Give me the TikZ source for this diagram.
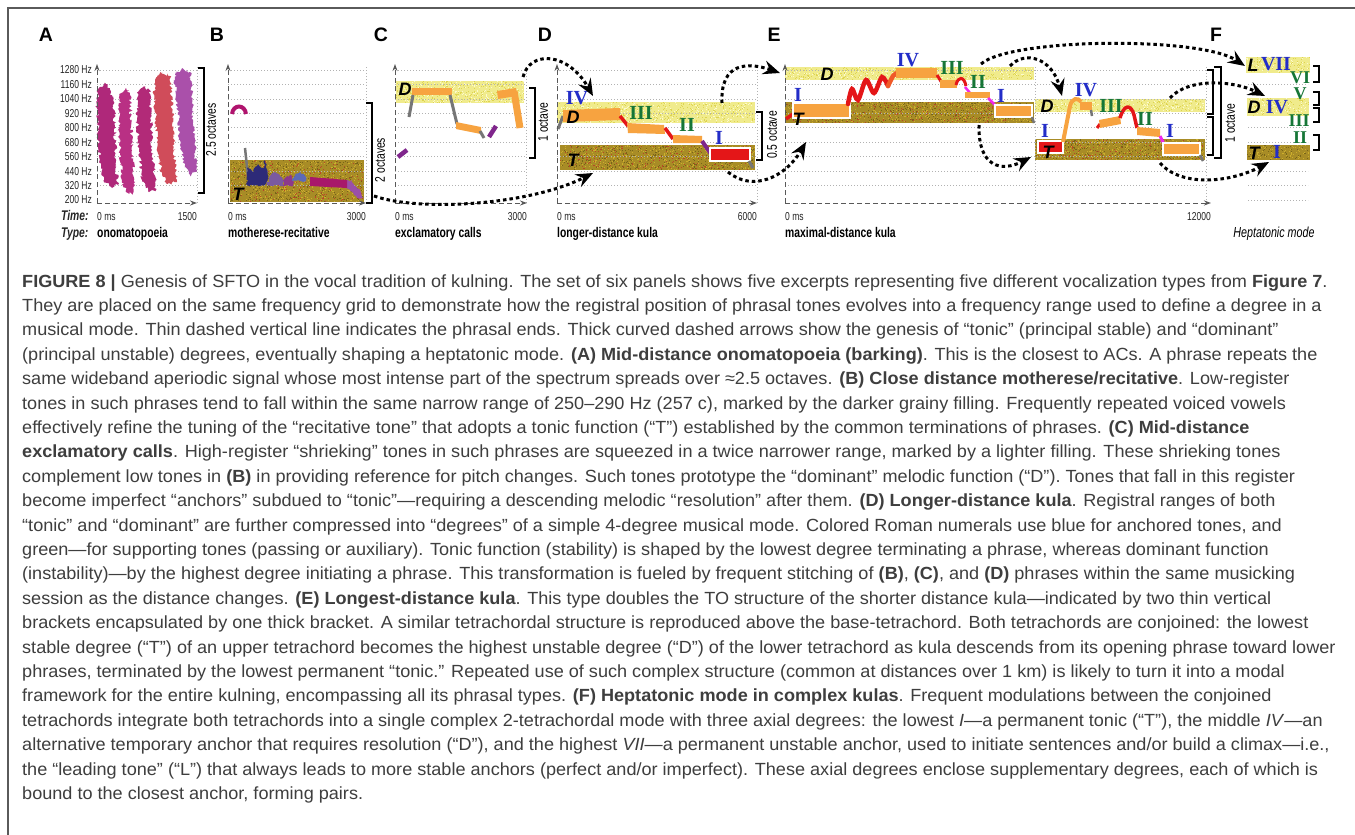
\documentclass[tikz,border=0pt]{standalone}
\usepackage{fontspec}
\setmainfont{Liberation Sans}
\newfontfamily\capfont{Liberation Sans}[FakeStretch=1.028]
\newfontfamily\condfont{Liberation Sans}[FakeStretch=0.74]
\newfontfamily\numfont{Liberation Serif}
\usetikzlibrary{arrows.meta,decorations.pathmorphing}
\definecolor{lightband}{RGB}{240,235,140}
\definecolor{lightgr1}{RGB}{222,212,80}
\definecolor{lightgr2}{RGB}{252,250,205}
\definecolor{darkband}{RGB}{168,140,38}
\definecolor{darkgr1}{RGB}{205,175,45}
\definecolor{darkgr2}{RGB}{120,100,25}
\definecolor{darkgr3}{RGB}{185,70,40}
\definecolor{orangeT}{RGB}{247,163,64}
\definecolor{orangeR}{RGB}{240,90,40}
\definecolor{redT}{RGB}{228,22,24}
\definecolor{grayT}{RGB}{118,118,118}
\definecolor{purpT}{RGB}{128,38,140}
\definecolor{magT}{RGB}{240,40,235}
\definecolor{numblueC}{RGB}{35,45,200}
\definecolor{numgreenC}{RGB}{22,118,55}
\definecolor{capgray}{RGB}{62,62,62}
\definecolor{frame}{RGB}{90,90,90}
\definecolor{spA1}{RGB}{175,40,122}
\definecolor{spA2}{RGB}{185,48,132}
\definecolor{spA3}{RGB}{178,42,120}
\definecolor{spA4}{RGB}{208,76,90}
\definecolor{spA5}{RGB}{170,80,170}
\definecolor{arcB}{RGB}{176,20,110}
\definecolor{spB1}{RGB}{45,42,120}
\definecolor{spB2}{RGB}{122,90,160}
\definecolor{spB3}{RGB}{140,58,140}
\definecolor{spB4}{RGB}{92,106,184}
\definecolor{spB5}{RGB}{154,80,168}
\definecolor{barB}{RGB}{168,24,106}
\newcommand{\grainbox}[6]{%
  \foreach \gi in {1,...,#6}{%
    \pgfmathsetmacro{\gx}{#1+rnd*(#3-#1-1)}%
    \pgfmathsetmacro{\gy}{#2+rnd*(#4-#2-1)}%
    \fill[#5] (\gx,\gy) rectangle ++(1,1);%
  }}
\newcommand{\pgridrows}[2]{%
  \foreach \k in {0,...,8}{\draw[gridln] (#1,{70+14.44*\k}) -- (#2,{70+14.44*\k});}}
\tikzset{
  gridln/.style={draw=gray!60, line width=0.7pt, dash pattern=on 1.2pt off 1.8pt},
  axisln/.style={draw=gray!70!black, line width=1pt, dash pattern=on 5pt off 3pt, -{Stealth[length=7pt,width=5pt]}},
  genarrow/.style={draw=black, line width=3pt, dash pattern=on 3.5pt off 3pt, -{Stealth[length=17pt,width=14pt,inset=6pt]}},
  tickl/.style={font=\condfont\fontsize{11.5}{12}\selectfont, text=black!85, inner sep=0pt},
  octl/.style={font=\condfont\fontsize{14}{14}\selectfont, inner sep=0pt, rotate=90},
  typel/.style={font=\condfont\bfseries\fontsize{14}{15}\selectfont, inner sep=0pt, anchor=base west},
  panl/.style={font=\bfseries\fontsize{19.5}{20}\selectfont, inner sep=0pt},
  fnl/.style={font=\bfseries\itshape\fontsize{18}{18}\selectfont, inner sep=0pt},
  numblue/.style={font=\numfont\bfseries\fontsize{20}{20}\selectfont, text=numblueC, inner sep=0pt},
  numgreen/.style={font=\numfont\bfseries\fontsize{20}{20}\selectfont, text=numgreenC, inner sep=0pt},
  numgreenS/.style={font=\numfont\bfseries\fontsize{18}{18}\selectfont, text=numgreenC, inner sep=0pt},
  capl/.style={font=\capfont\fontsize{17.6}{20}\selectfont, text=capgray, anchor=base west, inner sep=0pt},
  seg/.style={line width=#1, line cap=butt},
  brk/.style={draw=black, line width=1.2pt},
  brkthick/.style={draw=black, line width=2.4pt},
  tbox/.style={draw=white, line width=1.2pt}
}
\begin{document}
\begin{tikzpicture}[x=1pt,y=-1pt]
\useasboundingbox (0,0) rectangle (1355,835);
\fill[white] (0,0) rectangle (1355,835);
\draw[frame, line width=1.2pt] (8,835) -- (8,8) -- (1355,8);
\pgfmathsetseed{7}

% ---------------- panel letters
\node[panl] (lA) at (46,35) {A};
\node[panl] (lB) at (217,35) {B};
\node[panl] (lC) at (381,35) {C};
\node[panl] (lD) at (545,35) {D};
\node[panl] (lE) at (774,35) {E};
\node[panl] (lF) at (1216,35) {F};

% ---------------- panel A
\pgridrows{97}{197}
\draw[gridln] (197,67) -- (197,203);
\foreach \f [count=\k from 0] in {1280,1160,1040,920,800,680,560,440,320,200}{
  \node[tickl, anchor=east] (hz\f) at (92,{70+14.44*\k}) {\f\ Hz};}
\begin{scope}[decoration={random steps, segment length=1.6pt, amplitude=1.8pt}]
\fill[decorate, spA1] (99,88)--(106,84)--(111,92)--(114,110)--(115,140)--(116,165)--(118,185)--(112,188)--(104,180)--(100,160)--(98,130)--(97,100)--cycle;
\fill[decorate, spA2] (120,95)--(126,88)--(130,95)--(131,120)--(132,150)--(134,180)--(133,193)--(126,192)--(122,180)--(120,150)--(119,120)--cycle;
\fill[decorate, spA3] (138,92)--(145,86)--(150,92)--(151,120)--(152,150)--(155,180)--(156,190)--(148,191)--(142,180)--(139,150)--(137,120)--cycle;
\fill[decorate, spA4] (155,80)--(162,72)--(170,76)--(172,100)--(173,130)--(175,160)--(177,182)--(168,184)--(162,175)--(158,150)--(156,120)--(154,95)--cycle;
\fill[decorate, spA5] (175,75)--(182,68)--(190,72)--(192,95)--(193,120)--(195,150)--(197,172)--(190,175)--(185,165)--(180,145)--(178,115)--(176,95)--cycle;
\end{scope}
\draw[axisln] (97,203) -- (97,64);
\draw[axisln] (97,203) -- (197,203);
\draw[brk] (198,68) -- (204,68) -- (204,193) -- (198,193);
\node[octl] (octA) at (211,130) {2.5 octaves};
\node[tickl, anchor=base west, font=\condfont\bfseries\itshape\fontsize{14}{15}\selectfont] (timeL) at (61,220) {Time:};
\node[tickl, anchor=base west, font=\condfont\bfseries\itshape\fontsize{14}{15}\selectfont] (typeL) at (61,237) {Type:};
\node[tickl, anchor=base west] (tA0) at (97,220) {0 ms};
\node[tickl, anchor=base east] (tA1) at (197,220) {1500};
\node[typel] (nA) at (97,237) {onomatopoeia};

% ---------------- panel B
\fill[darkband] (230,160) rectangle (364,202);
\grainbox{230}{160}{364}{202}{darkgr1}{500}
\grainbox{230}{160}{364}{202}{darkgr2}{400}
\grainbox{230}{160}{364}{202}{darkgr3}{200}
\pgridrows{228}{366}
\draw[gridln] (366,67) -- (366,203);
\draw[arcB, line width=4pt] (232,114) .. controls (233,104) and (245,104) .. (246,114);
\draw[grayT, line width=2.5pt] (245,148) -- (248,176);
\begin{scope}[decoration={random steps, segment length=2pt, amplitude=1.5pt}]
\fill[decorate, spB1] (247,185)--(248,168)--(254,172)--(258,163)--(262,170)--(265,160)--(268,175)--(267,185)--cycle;
\fill[decorate, spB2] (267,185)--(270,176)--(275,172)--(280,176)--(283,180)--(283,186)--cycle;
\fill[decorate, spB3] (283,186)--(285,178)--(290,175)--(294,182)--(293,186)--cycle;
\fill[decorate, spB4] (292,181)--(295,174)--(300,171)--(305,176)--(306,181)--cycle;
\fill[decorate, spB5] (346,180)--(352,180)--(356,186)--(360,190)--(364,198)--(357,198)--(350,191)--(346,188)--cycle;
\end{scope}
\fill[barB] (310,177) -- (347,180) -- (347,188) -- (310,186) -- cycle;
\draw[axisln] (228,203) -- (228,64);
\draw[axisln] (228,203) -- (366,203);
\node[fnl] (tB) at (238,194) {T};
\draw[brk] (366,103) -- (372,103) -- (372,203) -- (366,203);
\node[octl] (octB) at (380,160) {2 octaves};
\node[tickl, anchor=base west] (tB0) at (228,220) {0 ms};
\node[tickl, anchor=base east] (tB1) at (366,220) {3000};
\node[typel] (nB) at (228,237) {motherese-recitative};

% ---------------- panel C
\fill[lightband] (396,81) rectangle (524,103);
\grainbox{396}{81}{524}{103}{lightgr1}{300}
\grainbox{396}{81}{524}{103}{lightgr2}{200}
\pgridrows{395}{526}
\draw[gridln] (526,67) -- (526,203);
\draw[orangeT, seg=7.5pt] (412,91.5) -- (452,91.5);
\draw[grayT, seg=3pt] (413,95) -- (409,117);
\draw[grayT, seg=3pt] (450,95) -- (457,124);
\fill[orangeT] (456,122) -- (481,127) -- (481,134) -- (456,129) -- cycle;
\draw[grayT, seg=3pt] (480,131) -- (484,138);
\draw[purpT, seg=4.5pt] (489,137) -- (496,126);
\fill[orangeT] (497,91) -- (516,88) -- (517,96) -- (498,99) -- cycle;
\draw[orangeT, seg=7pt] (514,91) -- (520,128);
\draw[purpT, seg=4.5pt] (398,157) -- (407,150);
\draw[axisln] (395,203) -- (395,64);
\draw[axisln] (395,203) -- (527,203);
\node[fnl] (dC) at (405,89) {D};
\draw[brk] (529,88) -- (535,88) -- (535,158) -- (529,158);
\node[octl] (octC) at (543,122) {1 octave};
\node[tickl, anchor=base west] (tC0) at (395,220) {0 ms};
\node[tickl, anchor=base east] (tC1) at (527,220) {3000};
\node[typel] (nC) at (395,237) {exclamatory calls};

% ---------------- panel D
\fill[lightband] (557,102) rectangle (755,123);
\grainbox{557}{102}{755}{123}{lightgr1}{420}
\grainbox{557}{102}{755}{123}{lightgr2}{300}
\fill[darkband] (560,145) rectangle (755,170);
\grainbox{560}{145}{755}{170}{darkgr1}{480}
\grainbox{560}{145}{755}{170}{darkgr2}{380}
\grainbox{560}{145}{755}{170}{darkgr3}{200}
\pgridrows{557}{757}
\draw[gridln] (757,67) -- (757,203);
\draw[grayT, seg=3pt] (558,129) -- (563,116);
\fill[orangeT] (563,110) -- (620,108) -- (620,120) -- (563,122) -- cycle;
\draw[redT, seg=3.5pt] (620,116) -- (628,126);
\fill[orangeT] (627,123) -- (664,125) -- (665,134) -- (628,133) -- cycle;
\draw[redT, seg=3.5pt] (665,128) -- (673,139);
\fill[orangeT] (673,135) -- (702,136) -- (702,143) -- (673,143) -- cycle;
\draw[purpT, seg=4pt] (702,141) -- (711,154);
\draw[tbox, fill=redT] (710,148) rectangle (750,161);
\draw[grayT, seg=3pt] (749,161) -- (753,168);
\draw[axisln] (557,203) -- (557,64);
\draw[axisln] (557,203) -- (757,203);
\node[fnl] (dD) at (573,117) {D};
\node[fnl] (tD) at (573,160) {T};
\node[numblue] (d4) at (577,98) {IV};
\node[numgreen] (d3) at (641,113) {III};
\node[numgreen] (d2) at (687,125) {II};
\node[numblue] (d1) at (719,138) {I};
\draw[brk] (756,112) -- (762,112) -- (762,160) -- (756,160);
\node[octl] (octD) at (772,135) {0.5 octave};
\node[tickl, anchor=base west] (tD0) at (557,220) {0 ms};
\node[tickl, anchor=base east] (tD1) at (757,220) {6000};
\node[typel] (nD) at (557,237) {longer-distance kula};

% ---------------- panel E
\fill[lightband] (785,67) rectangle (1034,80);
\grainbox{785}{67}{1034}{80}{lightgr1}{330}
\grainbox{785}{67}{1034}{80}{lightgr2}{220}
\fill[darkband] (785,102) rectangle (1034,123);
\grainbox{785}{102}{1034}{123}{darkgr1}{520}
\grainbox{785}{102}{1034}{123}{darkgr2}{400}
\grainbox{785}{102}{1034}{123}{darkgr3}{220}
\fill[lightband] (1035,99) rectangle (1205,112);
\grainbox{1035}{99}{1205}{112}{lightgr1}{220}
\grainbox{1035}{99}{1205}{112}{lightgr2}{150}
\fill[darkband] (1035,139) rectangle (1205,160);
\grainbox{1035}{139}{1205}{160}{darkgr1}{360}
\grainbox{1035}{139}{1205}{160}{darkgr2}{280}
\grainbox{1035}{139}{1205}{160}{darkgr3}{150}
\pgridrows{785}{1206}
\draw[gridln] (1035,67) -- (1035,203);
\draw[gridln] (1206,67) -- (1206,203);
% first phrase
\draw[redT, seg=3.5pt] (786,119) -- (793,114);
\draw[tbox, fill=orangeT] (793,103) rectangle (850,118);
\draw[redT, line width=4.5pt, line cap=round] plot[smooth] coordinates {(848,104) (852,89) (858,100) (866,80) (874,93) (882,77) (888,86)};
\draw[orangeR, line width=4.5pt, line cap=round] plot[smooth] coordinates {(888,86) (893,76) (897,73)};
\fill[orangeT] (896,68) rectangle (937,78);
\draw[redT, seg=3pt] (937,75) -- (942,83);
\fill[orangeT] (940,80) rectangle (957,88);
\draw[redT, line width=3pt] (956,85) .. controls (958,76) and (964,76) .. (966,86);
\draw[magT, seg=2.5pt] (965,87) -- (970,93);
\fill[orangeT] (965,92) rectangle (990,98);
\draw[magT, seg=2.5pt] (988,98) -- (996,106);
\draw[tbox, fill=orangeT] (995,105) rectangle (1032,117);
\draw[grayT, seg=2.5pt] (1032,117) -- (1034,123);
% second phrase
\draw[tbox, fill=redT] (1038,141) rectangle (1063,153);
\draw[orangeT, line width=4pt] (1063,142) -- (1070,106) .. controls (1072,98) and (1078,97) .. (1081,102);
\fill[orangeT] (1080,102) rectangle (1092,110);
\draw[grayT, seg=2.5pt] (1091,110) -- (1092,116);
\draw[redT, seg=3pt] (1097,128) -- (1100,124);
\fill[orangeT] (1099,120) -- (1120,116) -- (1121,124) -- (1100,128) -- cycle;
\draw[redT, line width=3.5pt] (1120,118) .. controls (1124,104) and (1131,104) .. (1134,115) -- (1137,128);
\fill[orangeT] (1137,127) -- (1160,129) -- (1160,137) -- (1137,135) -- cycle;
\draw[magT, seg=3pt] (1160,136) -- (1164,144);
\draw[tbox, fill=orangeT] (1163,143) rectangle (1200,155);
\draw[grayT, seg=2.5pt] (1200,155) -- (1203,161);
\draw[axisln] (785,203) -- (785,64);
\draw[axisln] (785,203) -- (1211,203);
\node[fnl] (dE) at (827,74) {D};
\node[fnl] (tE) at (798,119) {T};
\node[numblue] (e1a) at (798,95) {I};
\node[numblue] (e4a) at (908,60) {IV};
\node[numgreen] (e3a) at (952,68) {III};
\node[numgreen] (e2a) at (978,82) {II};
\node[numblue] (e1b) at (1001,96) {I};
\node[fnl] (dE2) at (1047,106) {D};
\node[fnl] (tE2) at (1048,152) {T};
\node[numblue] (e1c) at (1045,131) {I};
\node[numblue] (e4c) at (1086,90) {IV};
\node[numgreen] (e3c) at (1111,106) {III};
\node[numgreen] (e2c) at (1145,119) {II};
\node[numblue] (e1d) at (1170,131) {I};
\draw[brk] (1207,70) -- (1213,70) -- (1213,114) -- (1207,114);
\draw[brk] (1207,117) -- (1213,117) -- (1213,155) -- (1207,155);
\draw[brkthick] (1214,67) -- (1221,67) -- (1221,158) -- (1214,158);
\node[octl] (octE) at (1230,123) {1 octave};
\node[tickl, anchor=base west] (tE0) at (785,220) {0 ms};
\node[tickl, anchor=base east] (tE1) at (1211,220) {12000};
\node[typel] (nE) at (785,237) {maximal-distance kula};

% ---------------- panel F
\foreach \k in {0,...,9}{\draw[gridln] (1248,{70+14.44*\k}) -- (1308,{70+14.44*\k});}
\fill[lightband] (1246,57) rectangle (1310,73);
\grainbox{1246}{57}{1310}{73}{lightgr1}{90}
\grainbox{1246}{57}{1310}{73}{lightgr2}{60}
\fill[lightband] (1247,98) rectangle (1309,116);
\grainbox{1247}{98}{1309}{116}{lightgr1}{100}
\grainbox{1247}{98}{1309}{116}{lightgr2}{70}
\fill[darkband] (1247,145) rectangle (1310,160);
\grainbox{1247}{145}{1310}{160}{darkgr1}{90}
\grainbox{1247}{145}{1310}{160}{darkgr2}{70}
\node[fnl] (lF1) at (1253,65) {L};
\node[numblue] (f7) at (1276,64) {VII};
\node[numgreenS] (f6) at (1300,78) {VI};
\node[numgreenS] (f5) at (1300,94) {V};
\node[fnl] (dF) at (1254,107) {D};
\node[numblue] (f4) at (1277,107) {IV};
\node[numgreenS] (f3) at (1299,121) {III};
\node[numgreenS] (f2) at (1300,138) {II};
\node[fnl] (tF) at (1254,153) {T};
\node[numblue] (f1) at (1277,152) {I};
\draw[brk] (1313,66) -- (1319,66) -- (1319,82) -- (1313,82);
\draw[brk] (1313,92) -- (1319,92) -- (1319,105) -- (1313,105);
\draw[brk] (1313,108) -- (1319,108) -- (1319,122) -- (1313,122);
\draw[brk] (1313,135) -- (1319,135) -- (1319,150) -- (1313,150);
\node[typel, anchor=base, font=\condfont\itshape\fontsize{14.5}{15}\selectfont] (nF) at (1274,237) {Heptatonic mode};

% ---------------- genesis arrows
\coordinate (aB1) at (374,196);  \coordinate (aB2) at (593,173);
\coordinate (aC1) at (523,77);   \coordinate (aC2) at (593,96);
\coordinate (aD1) at (722,103);  \coordinate (aD2) at (780,73);
\coordinate (aD3) at (728,172);  \coordinate (aD4) at (806,142);
\coordinate (aE1) at (979,125);  \coordinate (aE2) at (1031,157);
\coordinate (aE3) at (1010,66);  \coordinate (aE4) at (1062,96);
\coordinate (aF1) at (981,64);   \coordinate (aF2) at (1245,66);
\coordinate (aF3) at (1170,98);  \coordinate (aF4) at (1265,96);
\coordinate (aF5) at (1160,163); \coordinate (aF6) at (1269,162);
\draw[genarrow] (aB1) .. controls (420,212) and (530,205) .. (aB2);
\draw[genarrow] (aC1) .. controls (530,50) and (568,52) .. (aC2);
\draw[genarrow] (aD1) .. controls (720,62) and (748,62) .. (aD2);
\draw[genarrow] (aD3) .. controls (752,192) and (785,178) .. (aD4);
\draw[genarrow] (aE1) .. controls (978,168) and (1002,172) .. (aE2);
\draw[genarrow] (aE3) .. controls (1025,50) and (1052,58) .. (aE4);
\draw[genarrow] (aF1) .. controls (1010,38) and (1200,36) .. (aF2);
\draw[genarrow] (aF3) .. controls (1188,78) and (1232,80) .. (aF4);
\draw[genarrow] (aF5) .. controls (1182,188) and (1232,182) .. (aF6);

% ---------------- caption
\foreach \ln [count=\i from 0] in {
 {\textbf{FIGURE 8 |} Genesis of SFTO in the vocal tradition of kulning. The set of six panels shows five excerpts representing five different vocalization types from \textbf{Figure 7}.},
 {They are placed on the same frequency grid to demonstrate how the registral position of phrasal tones evolves into a frequency range used to define a degree in a},
 {musical mode. Thin dashed vertical line indicates the phrasal ends. Thick curved dashed arrows show the genesis of “tonic” (principal stable) and “dominant”},
 {(principal unstable) degrees, eventually shaping a heptatonic mode. \textbf{(A) Mid-distance onomatopoeia (barking)}. This is the closest to ACs. A phrase repeats the},
 {same wideband aperiodic signal whose most intense part of the spectrum spreads over ≈2.5 octaves. \textbf{(B) Close distance motherese/recitative}. Low-register},
 {tones in such phrases tend to fall within the same narrow range of 250–290 Hz (257 c), marked by the darker grainy filling. Frequently repeated voiced vowels},
 {effectively refine the tuning of the “recitative tone” that adopts a tonic function (“T”) established by the common terminations of phrases. \textbf{(C) Mid-distance}},
 {\textbf{exclamatory calls}. High-register “shrieking” tones in such phrases are squeezed in a twice narrower range, marked by a lighter filling. These shrieking tones},
 {complement low tones in \textbf{(B)} in providing reference for pitch changes. Such tones prototype the “dominant” melodic function (“D”). Tones that fall in this register},
 {become imperfect “anchors” subdued to “tonic”—requiring a descending melodic “resolution” after them. \textbf{(D) Longer-distance kula}. Registral ranges of both},
 {“tonic” and “dominant” are further compressed into “degrees” of a simple 4-degree musical mode. Colored Roman numerals use blue for anchored tones, and},
 {green—for supporting tones (passing or auxiliary). Tonic function (stability) is shaped by the lowest degree terminating a phrase, whereas dominant function},
 {(instability)—by the highest degree initiating a phrase. This transformation is fueled by frequent stitching of \textbf{(B)}, \textbf{(C)}, and \textbf{(D)} phrases within the same musicking},
 {session as the distance changes. \textbf{(E) Longest-distance kula}. This type doubles the TO structure of the shorter distance kula—indicated by two thin vertical},
 {brackets encapsulated by one thick bracket. A similar tetrachordal structure is reproduced above the base-tetrachord. Both tetrachords are conjoined: the lowest},
 {stable degree (“T”) of an upper tetrachord becomes the highest unstable degree (“D”) of the lower tetrachord as kula descends from its opening phrase toward lower},
 {phrases, terminated by the lowest permanent “tonic.” Repeated use of such complex structure (common at distances over 1 km) is likely to turn it into a modal},
 {framework for the entire kulning, encompassing all its phrasal types. \textbf{(F) Heptatonic mode in complex kulas}. Frequent modulations between the conjoined},
 {tetrachords integrate both tetrachords into a single complex 2-tetrachordal mode with three axial degrees: the lowest \textit{I}—a permanent tonic (“T”), the middle \textit{IV}—an},
 {alternative temporary anchor that requires resolution (“D”), and the highest \textit{VII}—a permanent unstable anchor, used to initiate sentences and/or build a climax—i.e.,},
 {the “leading tone” (“L”) that always leads to more stable anchors (perfect and/or imperfect). These axial degrees enclose supplementary degrees, each of which is},
 {bound to the closest anchor, forming pairs.}}{
  \node[capl] (cap\i) at (22,{287+24.4*\i}) {\ln};
}
\end{tikzpicture}
\end{document}
